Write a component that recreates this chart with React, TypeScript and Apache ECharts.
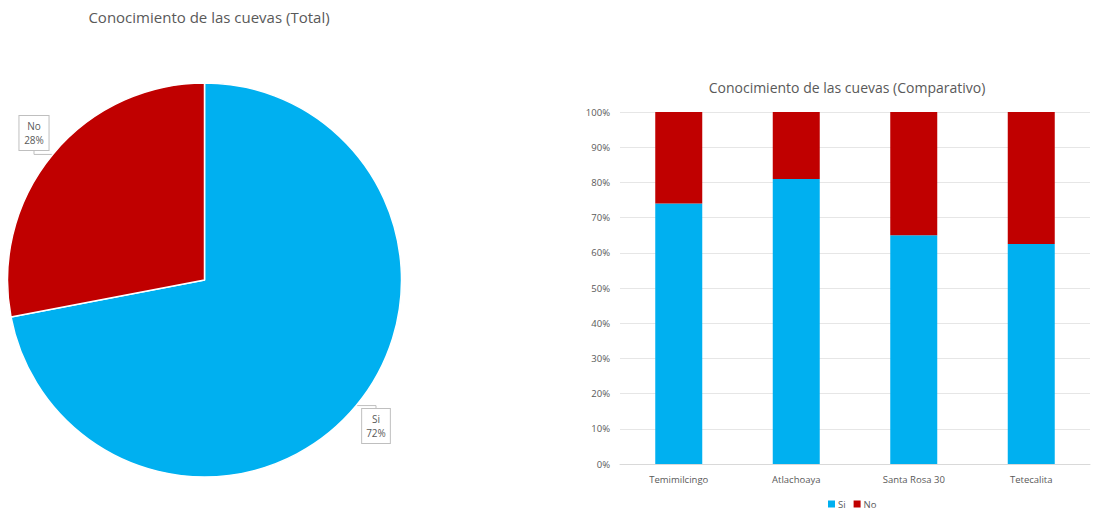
import React, { useEffect, useRef } from "react";
import * as echarts from "echarts";

const pieNames = ["Si", "No"];
const pieValues = [72, 28];

const categories = ["Temimilcingo", "Atlachoaya", "Santa Rosa 30", "Tetecalita"];
const siValues = [74, 81, 65, 62.5];
const noValues = [26, 19, 35, 37.5];

const BLUE = "#00B0F0";
const RED = "#C00000";
const TXT = "#595959";
const FONT = "'Open Sans', 'Noto Sans', sans-serif";

export default function App() {
  const ref = useRef<HTMLDivElement>(null);
  useEffect(() => {
    document.body.style.margin = "0";
    const chart = echarts.init(ref.current!, null, { renderer: "svg" });
    chart.setOption({
      animation: false,
      backgroundColor: "#ffffff",
      textStyle: { fontFamily: FONT },
      title: [
        {
          text: "Conocimiento de las cuevas (Total)",
          left: 204,
          top: 4,
          textAlign: "center",
          textStyle: { fontSize: 15, fontWeight: "normal", color: TXT, fontFamily: FONT },
        },
        {
          text: "Conocimiento de las cuevas (Comparativo)",
          left: 842,
          top: 75,
          textAlign: "center",
          textStyle: { fontSize: 14, fontWeight: "normal", color: TXT, fontFamily: FONT },
        },
      ],
      legend: {
        data: pieNames,
        left: 823,
        top: 494,
        itemWidth: 7,
        itemHeight: 7,
        itemGap: 8,
        textStyle: { fontSize: 9.5, color: TXT, fontFamily: FONT, padding: [0, 0, 0, -2] },
        icon: "rect",
      },
      grid: { left: 620, right: 5, top: 112, bottom: 48, containLabel: false },
      xAxis: {
        type: "category",
        data: categories,
        axisLine: { lineStyle: { color: "#D9D9D9" } },
        axisTick: { show: false },
        axisLabel: { fontSize: 9.5, color: TXT, margin: 10 },
      },
      yAxis: {
        type: "value",
        min: 0,
        max: 100,
        interval: 10,
        axisLabel: { formatter: "{value}%", fontSize: 9.5, color: TXT, margin: 10 },
        axisLine: { show: false },
        axisTick: { show: false },
        splitLine: { lineStyle: { color: "#E6E6E6" } },
      },
      series: [
        {
          name: "Si",
          type: "bar",
          stack: "t",
          data: siValues,
          barWidth: "40%",
          itemStyle: { color: BLUE },
        },
        {
          name: "No",
          type: "bar",
          stack: "t",
          data: noValues,
          barWidth: "40%",
          itemStyle: { color: RED },
        },
        {
          name: "Total",
          type: "pie",
          center: [204.5, 280],
          radius: 197,
          startAngle: 90,
          clockwise: true,
          data: pieNames.map((n, i) => ({ name: n, value: pieValues[i], itemStyle: { color: i === 0 ? BLUE : RED } })),
          itemStyle: { borderColor: "#ffffff", borderWidth: 1.5 },
          label: {
            show: true,
            position: "outside",
            formatter: "{b}\n{d}%",
            fontSize: 10,
            lineHeight: 14,
            color: TXT,
            backgroundColor: "#ffffff",
            borderColor: "#BFBFBF",
            borderWidth: 1,
            padding: [3, 4],
            align: "center",
          },
          labelLayout: (p: any) =>
            p.dataIndex === 0
              ? { x: 376, y: 426, align: "center", verticalAlign: "middle" }
              : { x: 34, y: 133, align: "center", verticalAlign: "middle" },
          labelLine: { show: true, length: 6, length2: 4, lineStyle: { color: "#BFBFBF" } },
        },
      ],
    });
    return () => chart.dispose();
  }, []);
  return <div ref={ref} style={{ width: 1095, height: 512 }} />;
}
